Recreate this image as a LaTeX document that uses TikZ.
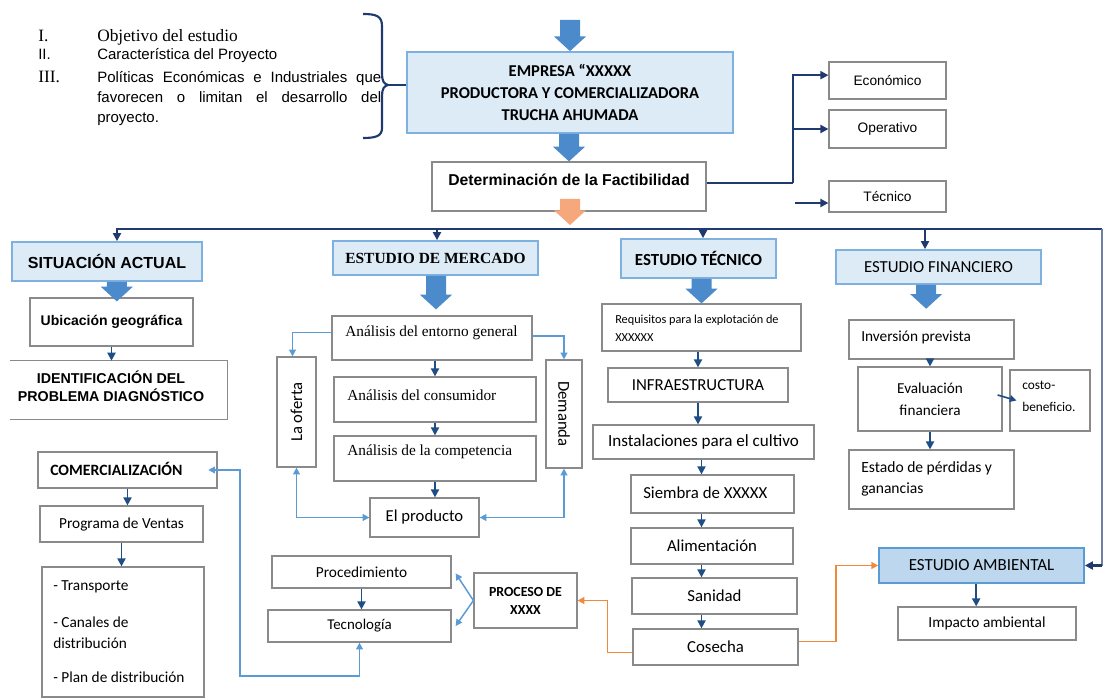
\documentclass[tikz,border=0pt]{standalone}
\usepackage{fontspec}
\usepackage{graphicx}
\setmainfont{Liberation Sans}
\newfontfamily\calib{Carlito}
\newfontfamily\tnr{Liberation Serif}
\usetikzlibrary{calc,arrows.meta}
\definecolor{navy}{HTML}{1F3A70}
\definecolor{darr}{HTML}{1F4E85}
\definecolor{lblue}{HTML}{DDEBF7}
\definecolor{lblueb}{HTML}{BDD7EE}
\definecolor{bblue}{HTML}{7EB0E0}
\definecolor{blkc}{HTML}{4B8BCB}
\definecolor{conn}{HTML}{5B9BD5}
\definecolor{orng}{HTML}{EF8A3C}
\definecolor{lorng}{HTML}{F6A87C}
\definecolor{gbord}{HTML}{8A8A8A}
\newcommand{\fsz}[2]{\fontsize{#1}{#2}\selectfont}
\newcommand{\bx}[7]{\node[#1, minimum width={(#5-#3)*0.75pt}, minimum height={(#6-#4)*0.75pt}] (#2) at ({(#3+#5)/2},{(#4+#6)/2}) {#7};}
\newcommand{\blk}[3]{\fill[#1] let \p1=(#2), \p2=(#3) in (\x2-7.5pt,\y1) -- (\x2+7.5pt,\y1) -- (\x2+7.5pt,\y2+11pt) -- (\x2+12pt,\y2+11pt) -- (\x2,\y2) -- (\x2-12pt,\y2+11pt) -- (\x2-7.5pt,\y2+11pt) -- cycle;}
\begin{document}
\begin{tikzpicture}[x=0.75pt,y=-0.75pt,
  font=\calib,
  box/.style={draw=gbord, line width=0.9pt, fill=white, inner sep=0pt, align=center},
  bbox/.style={draw=bblue, line width=1.3pt, fill=lblue, inner sep=0pt, align=center},
  txt/.style={inner sep=0pt, anchor=west, align=left},
  btxt/.style={inner sep=0pt, anchor=base west},
  arr/.style={darr, line width=1.4pt, -{Triangle[length=6pt,width=6pt]}},
  bus/.style={navy, line width=1.8pt},
  busarr/.style={navy, line width=1.8pt, -{Triangle[length=6pt,width=6pt]}},
  cn/.style={conn, line width=1.1pt, -{Triangle[length=5pt,width=5pt]}},
  cnn/.style={conn, line width=1.1pt, {Triangle[length=5pt,width=5pt]}-{Triangle[length=5pt,width=5pt]}},
  oc/.style={orng, line width=1.2pt, -{Triangle[length=5pt,width=5pt]}}]
\useasboundingbox[fill=white] (0,0) rectangle (1105,698);

% ---------- top-left list ----------
\node[btxt, font=\tnr\fsz{13}{15}] (n1) at (38,42) {I.};
\node[btxt, font=\tnr\fsz{13}{15}] (t1) at (97,42) {Objetivo del estudio};
\node[btxt, font=\rmfamily\fsz{11.25}{13}] (n2) at (38,60) {II.};
\node[btxt, font=\rmfamily\fsz{11.25}{13}] (t2) at (97,60) {Característica del Proyecto};
\node[btxt, font=\tnr\fsz{13}{15}] (n3) at (38,83) {III.};
\node[btxt, font=\rmfamily\fsz{11.25}{13}] (t3a) at (97,83) {\makebox[213pt][s]{Políticas Económicas e Industriales que}};
\node[btxt, font=\rmfamily\fsz{11.25}{13}] (t3b) at (97,103) {\makebox[213pt][s]{favorecen o limitan el desarrollo del}};
\node[btxt, font=\rmfamily\fsz{11.25}{13}] (t3c) at (97,123) {proyecto.};

% ---------- top boxes ----------
\bx{bbox, font=\calib\bfseries\fsz{12.4}{16.5}}{emp}{407}{52}{733}{133}{EMPRESA “XXXXX\\PRODUCTORA Y COMERCIALIZADORA\\TRUCHA AHUMADA}
\bx{box}{det}{432}{162}{706}{211}{}
\node[inner sep=0pt, font=\rmfamily\bfseries\fsz{11.8}{14}] (dett) at (569,180) {Determinación de la Factibilidad};

\bx{box, font=\rmfamily\fsz{10.3}{12}}{eco}{829}{62}{946}{99}{Económico}
\bx{box, font=\rmfamily\fsz{10.3}{12}}{ope}{829}{110}{946}{148}{Operativo}
\bx{box, font=\rmfamily\fsz{10.3}{12}}{tec}{829}{181}{946}{212}{Técnico}

% brace
\coordinate (brc) at (388,85);
\draw[navy, line width=1.6pt] (363,14) .. controls (376,14) and (382,16) .. (382,26) -- (382,74) .. controls (382,81) and (384,84) .. (brc)
  .. controls (384,86) and (382,89) .. (382,96) -- (382,128) .. controls (382,136) and (376,138) .. (363,138);
\draw[navy, line width=1.6pt] (brc) -- (brc -| emp.west);

% block arrows top
\coordinate (topA) at (570,20);
\blk{blkc}{topA}{emp.north}
\blk{blkc}{emp.south}{det.north}
\coordinate (oA) at (570,199);
\coordinate (oB) at (570,225);
\blk{lorng}{oA}{oB}

% feasibility branches
\coordinate (jn) at (793,183);
\coordinate (tecA) at (795,203);
\draw[bus] (det.east |- jn) -- (jn);
\draw[busarr] (jn) |- ([yshift=4pt]eco.west);
\draw[busarr] (jn |- ope.west) -- (ope.west);
\draw[busarr] (tecA) -- (tecA -| tec.west);

% ---------- SITUACION ACTUAL ----------
\bx{bbox, font=\rmfamily\bfseries\fsz{12}{14}}{sit}{12}{242}{202}{281}{SITUACIÓN ACTUAL}
\bx{box, font=\rmfamily\bfseries\fsz{10.5}{12}}{ubi}{30}{298}{193}{346}{Ubicación geográfica}
\node[inner sep=0pt, minimum width={217*0.75pt}, minimum height={58*0.75pt}] (ide) at (118.5,390) {};
\draw[gbord, line width=0.9pt] (ide.north west) -- (ide.north east) -- (ide.south east) -- (ide.south west);
\node[inner sep=0pt, align=center, font=\rmfamily\bfseries\fsz{10.7}{13.5}] (idet) at (111,386) {IDENTIFICACIÓN DEL\\PROBLEMA DIAGNÓSTICO};
\blk{blkc}{sit.south}{[xshift=4pt,yshift=-3pt]ubi.north}
\draw[arr] (ubi.south) -- (ubi.south |- ide.north);

% ---------- COMERCIALIZACION ----------
\bx{box}{comr}{38}{452}{217}{488}{}
\node[txt, font=\calib\bfseries\fsz{11.8}{14}] (comrt) at (50,469) {COMERCIALIZACIÓN};
\bx{box, font=\calib\fsz{11.5}{14}}{prog}{40}{506}{203}{542}{Programa de Ventas}
\bx{box}{lst}{42}{567}{204}{697}{}
\node[txt, font=\calib\fsz{11.5}{14}] (l1) at (53,587) {- Transporte};
\node[txt, font=\calib\fsz{11.5}{14}] (l2) at (53,622) {- Canales de};
\node[txt, font=\calib\fsz{11.5}{14}] (l3) at (53,643) {distribución};
\node[txt, font=\calib\fsz{11.5}{14}] (l4) at (53,677) {- Plan de distribución};
\draw[arr] (comr.south) -- (comr.south |- prog.north);
\draw[arr] (prog.south) -- (prog.south |- lst.north);

% ---------- ESTUDIO DE MERCADO ----------
\bx{bbox, font=\tnr\bfseries\fsz{11.6}{14}}{mer}{333}{241}{538}{275}{ESTUDIO DE MERCADO}
\bx{box}{ent}{332}{316}{532}{360}{}
\node[txt, font=\tnr\fsz{11.5}{14}] (entt) at (345,333) {Análisis del entorno general};
\bx{box}{con}{334}{377}{536}{422}{}
\node[txt, font=\tnr\fsz{11.5}{14}] (cont) at (347,395) {Análisis del consumidor};
\bx{box}{cmp}{334}{436}{536}{481}{}
\node[txt, font=\tnr\fsz{11.5}{14}] (cmpt) at (347,452) {Análisis de la competencia};
\bx{box, font=\calib\fsz{12.5}{14}}{pro}{370}{498}{479}{537}{El producto}
\bx{box, font=\calib\fsz{12.5}{14}}{ofe}{277}{357}{316}{467}{\rotatebox{90}{La oferta}}
\bx{box, font=\calib\fsz{12.5}{14}}{dem}{546}{360}{582}{468}{\rotatebox{-90}{Demanda}}
\blk{blkc}{mer.south}{[xshift=3pt,yshift=4.5pt]ent.north}
\draw[arr] (con.north |- ent.south) -- (con.north);
\draw[arr] (cmp.north |- con.south) -- (cmp.north);
\draw[arr] (cmp.south) -- (cmp.south |- pro.north);
\draw[cn] ([yshift=4pt]ent.west) -| ([xshift=-3pt]ofe.north);
\draw[cn] ([yshift=1.5pt]ent.east) -| (dem.north);
\draw[cnn] (ofe.south) |- (pro.west);
\draw[cnn] (dem.south) |- (pro.east);

% ---------- Procedimiento / Tecnologia ----------
\bx{box, font=\calib\fsz{11.5}{14}}{proc}{272}{556}{451}{588}{Procedimiento}
\bx{box, font=\calib\fsz{11.2}{14}}{tecn}{268}{610}{451}{642}{Tecnología}
\bx{box, font=\calib\bfseries\fsz{10.4}{13.5}}{pr}{474}{573}{577}{628}{PROCESO DE\\XXXX}
\draw[arr] (proc.south) -- (proc.south |- tecn.north);
\draw[cn] (pr.west) -- ([xshift=3pt,yshift=-1pt]proc.east);
\draw[cn] (pr.west) -- ([xshift=3pt]tecn.east);
\coordinate (cA) at (240,676);
\draw[cnn] ([xshift=-7pt]comr.east) -| (cA) -| (tecn.south);

% ---------- ESTUDIO TECNICO ----------
\bx{bbox, font=\calib\bfseries\fsz{12.7}{14}}{tecE}{621}{239}{776}{278}{ESTUDIO TÉCNICO}
\bx{box}{req}{602}{304}{801}{351}{}
\node[txt, font=\calib\fsz{9.2}{13.5}] (reqt) at (615,328) {Requisitos para la explotación de\\XXXXXX};
\bx{box, font=\calib\fsz{12.6}{14}}{infra}{608}{368}{788}{402}{INFRAESTRUCTURA}
\bx{box, font=\calib\fsz{12.8}{14}}{inst}{593}{425}{814}{459}{Instalaciones para el cultivo}
\bx{box}{siem}{631}{475}{794}{513}{}
\node[txt, font=\calib\fsz{12.6}{14}] (siemt) at (643,493) {Siembra de XXXXX};
\bx{box, font=\calib\fsz{12.6}{14}}{alim}{631}{528}{793}{564}{Alimentación}
\bx{box, font=\calib\fsz{12.6}{14}}{san}{632}{578}{797}{614}{Sanidad}
\bx{box, font=\calib\fsz{12.6}{14}}{cos}{633}{629}{798}{665}{Cosecha}
\blk{blkc}{tecE.south}{req.north}
\draw[arr] (infra.north |- req.south) -- (infra.north);
\draw[arr] (infra.south) -- (infra.south |- inst.north);
\draw[arr] (inst.south -| req.south) -- (siem.north -| req.south);
\draw[arr] (siem.south -| req.south) -- (alim.north -| req.south);
\draw[arr] (alim.south -| req.south) -- (san.north -| req.south);
\draw[arr] (san.south -| req.south) -- (cos.north -| req.south);

% ---------- ESTUDIO FINANCIERO ----------
\bx{bbox, font=\calib\fsz{12.6}{14}}{fin}{836}{250}{1041}{284}{ESTUDIO FINANCIERO}
\bx{box}{inv}{849}{320}{1014}{359}{}
\node[txt, font=\calib\fsz{11.5}{14}] (invt) at (861,337) {Inversión prevista};
\bx{box, font=\calib\fsz{11.4}{16.5}}{ev}{858}{367}{1002}{431}{Evaluación\\financiera}
\bx{box}{cb}{1010}{370}{1090}{431}{}
\node[txt, font=\calib\fsz{10}{16.5}] (cbt) at (1022,396) {costo-\\beneficio.};
\bx{box}{est}{849}{450}{1014}{509}{}
\node[txt, font=\calib\fsz{11.7}{15.75}] (estt) at (861,478.5) {Estado de pérdidas y\\ganancias};
\blk{blkc}{fin.south}{[xshift=-4pt,yshift=8pt]inv.north}
\draw[arr] (ev.north |- inv.south) -- (ev.north);
\draw[arr, -{Triangle[length=5pt,width=5pt]}, line width=1.2pt] ([xshift=-3.75pt,yshift=3pt]ev.east) -- ([xshift=5.25pt]cb.west);
\draw[arr] (ev.south) -- (ev.south |- est.north);

% ---------- ESTUDIO AMBIENTAL ----------
\bx{bbox, fill=lblueb, draw=conn, font=\calib\fsz{12.7}{14}}{amb}{879}{548}{1084}{583}{ESTUDIO AMBIENTAL}
\bx{box, font=\calib\fsz{11.5}{14}}{imp}{898}{607}{1076}{640}{Impacto ambiental}
\draw[arr] ([xshift=-4pt]amb.south) -- ([xshift=-4pt]amb.south |- imp.north);

% orange connectors
\draw[oc] ([yshift=-4pt]cos.west) -| ($(pr.east)+(30,0)$) -- (pr.east);
\draw[oc] ([yshift=4pt]cos.east) -| ($(amb.west)+(-42,0)$) -- (amb.west);

% ---------- main bus ----------
\coordinate (busL) at (117,229);
\coordinate (busR) at (1102,229);
\coordinate (dm) at (437,229);
\coordinate (dt) at (703,229);
\coordinate (df) at (925,229);
\draw[busarr] (busR) -- (busL) -- (busL |- sit.north);
\draw[busarr] (dm) -- (dm |- mer.north);
\draw[busarr] (dt) -- (dt |- tecE.north);
\draw[busarr] (df) -- (df |- fin.north);
\draw[navy!65, line width=1.6pt] (busR) -- (busR |- amb.east);
\draw[busarr] (busR |- amb.east) -- (amb.east);
\end{tikzpicture}
\end{document}
